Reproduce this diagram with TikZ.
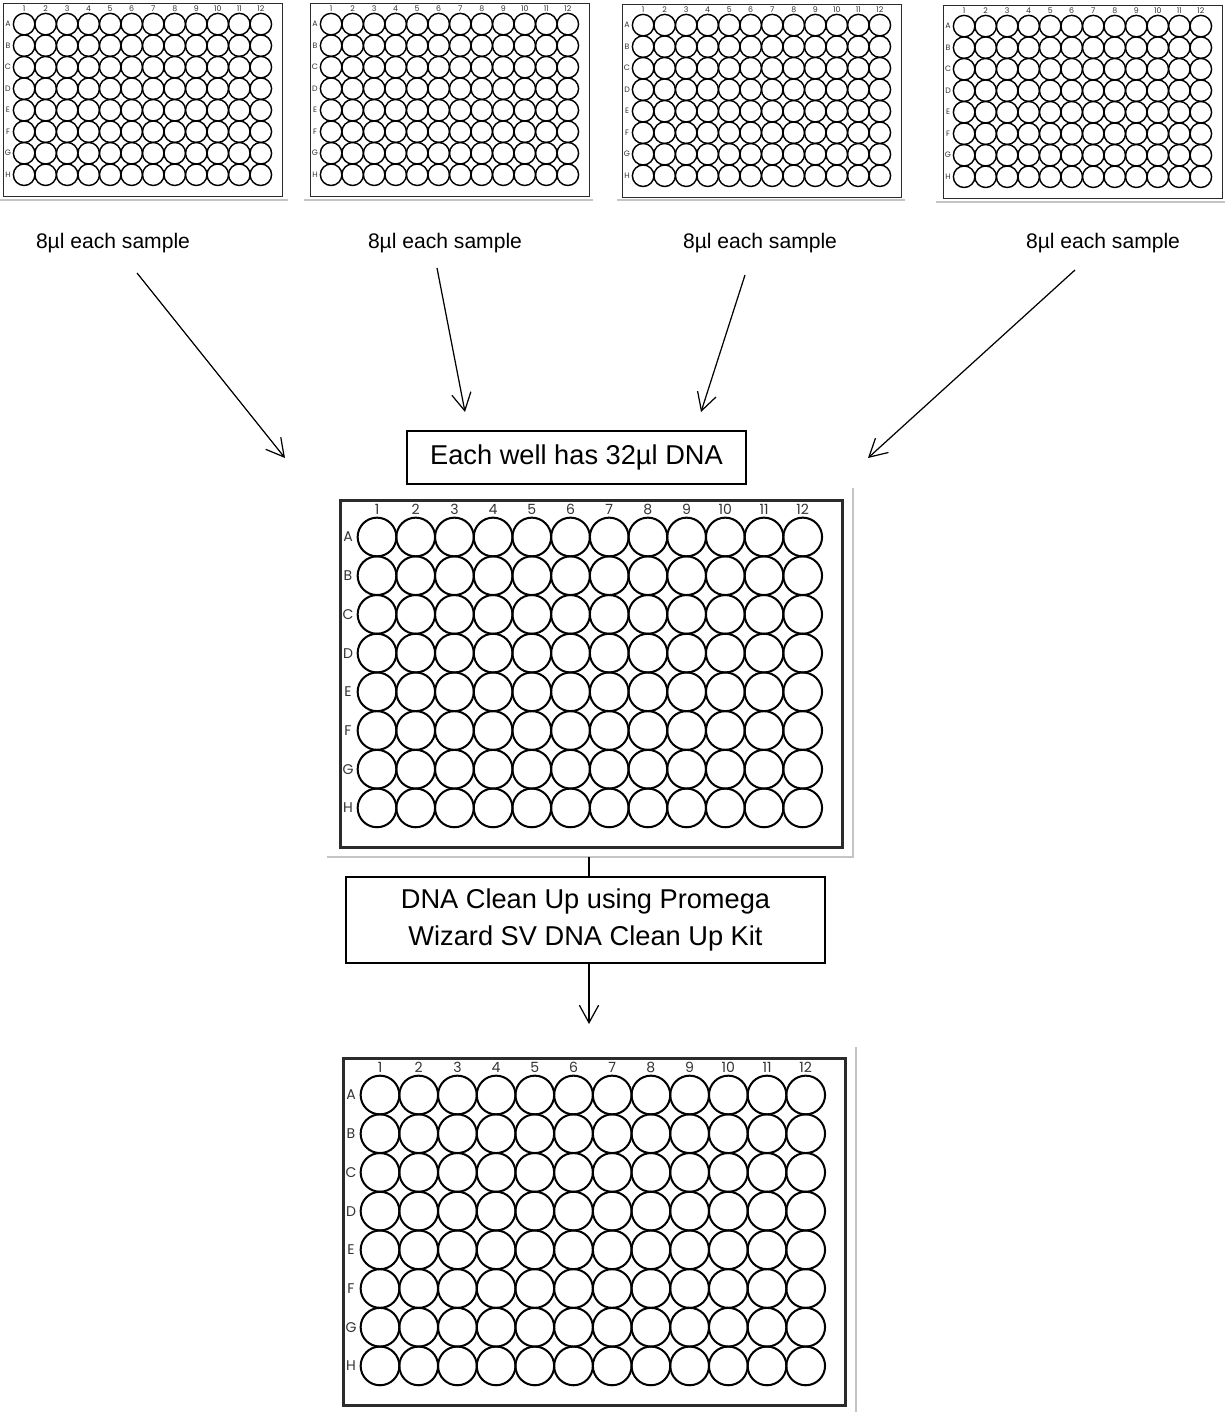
\documentclass[tikz,border=0pt]{standalone}
\usepackage{fontspec}
\setmainfont{Liberation Sans}
\newfontfamily\platefont{Poppins}
\usetikzlibrary{arrows.meta}
\definecolor{ink}{HTML}{000000}
\definecolor{rim}{HTML}{2B2B2B}
\definecolor{edge}{HTML}{C4C4C4}
\definecolor{tagc}{HTML}{333333}
\tikzset{
  plate/.style  ={draw=rim, line width=#1, anchor=north west, inner sep=0pt,
                  minimum width=10.04cm, minimum height=6.94cm, transform shape},
  well/.style   ={draw=ink, line width=#1},
  tag/.style    ={font=\platefont\fontsize{8}{8}\selectfont, text=tagc, inner sep=0pt, transform shape},
  stepbox/.style={draw=ink, line width=.9pt, inner sep=0pt, align=center,
                  font=\fontsize{15.5}{21}\selectfont},
  note/.style   ={font=\fontsize{12}{14}\selectfont, inner sep=0pt},
  flow/.style   ={-{Straight Barb[length=10pt,width=11pt]}, line width=.7pt, draw=ink},
  rimline/.style={draw=edge, line width=1pt},
}
% 96-well plate: name, x, y, scale
\newcommand{\wellplate}[4]{%
  \begin{scope}[shift={(#2,#3)}, scale=#4]
    \node[plate={#4*1.5pt}] (#1) at (0,0) {};
    \foreach \c in {1,...,12}
      \node[tag] at ({38+(\c-1)*38.7},10) {\c};
    \foreach \r [count=\i from 0] in {A,B,C,D,E,F,G,H}
      \node[tag] at (9,{38+\i*38.7}) {\r};
    \foreach \c in {0,...,11}
      \foreach \i in {0,...,7}
        \draw[well={0.4pt+#4*0.75pt}] ({38+\c*38.7},{38+\i*38.7}) circle[radius=19.35];
  \end{scope}}

\begin{document}
\begin{tikzpicture}[x=0.02cm, y=-0.02cm]
  \fill[white] (0,0) rectangle (1225,1412);
  \useasboundingbox (0,0) rectangle (1225,1412);

  % source plates
  \wellplate{src1}{3}{3}{0.556}
  \wellplate{src2}{310}{3}{0.556}
  \wellplate{src3}{622}{4}{0.556}
  \wellplate{src4}{943}{5}{0.556}
  \draw[rimline] (0,200) -- (288,200);
  \draw[rimline] (304,200) -- (593,200);
  \draw[rimline] (617,200) -- (905,200);
  \draw[rimline] (936,202) -- (1225,202);

  \node[note] (vol1) at (113,243) {8µl each sample};
  \node[note] (vol2) at (445,243) {8µl each sample};
  \node[note] (vol3) at (760,243) {8µl each sample};
  \node[note] (vol4) at (1103,243) {8µl each sample};

  \coordinate (from1) at (137,273);  \coordinate (to1) at (285,458);
  \coordinate (from2) at (437,268);  \coordinate (to2) at (465,412);
  \coordinate (from3) at (745,275);  \coordinate (to3) at (701,412);
  \coordinate (from4) at (1075,270); \coordinate (to4) at (868,458);
  \draw[flow] (from1) -- (to1);
  \draw[flow] (from2) -- (to2);
  \draw[flow] (from3) -- (to3);
  \draw[flow] (from4) -- (to4);

  % pooled plate
  \node[stepbox, minimum width=6.78cm, minimum height=1.06cm] (pooled) at (576.5,457.5) {Each well has 32µl DNA};
  \wellplate{pool}{339}{499}{1}
  \draw[rimline] (327,857) -- (853,857) -- (853,488);

  % clean up
  \coordinate (rim1) at (589,857);
  \node[stepbox, minimum width=9.58cm, minimum height=1.72cm] (cleanup) at (585.5,920)
    {DNA Clean Up using Promega\\Wizard SV DNA Clean Up Kit};
  \draw[line width=.9pt] (rim1) -- (rim1 |- cleanup.north);
  \coordinate (to5) at (589,1024);
  \draw[flow] (cleanup.south -| rim1) -- (to5);

  \wellplate{clean}{342}{1057}{1}
  \draw[rimline] (856,1047) -- (856,1412);
\end{tikzpicture}
\end{document}
